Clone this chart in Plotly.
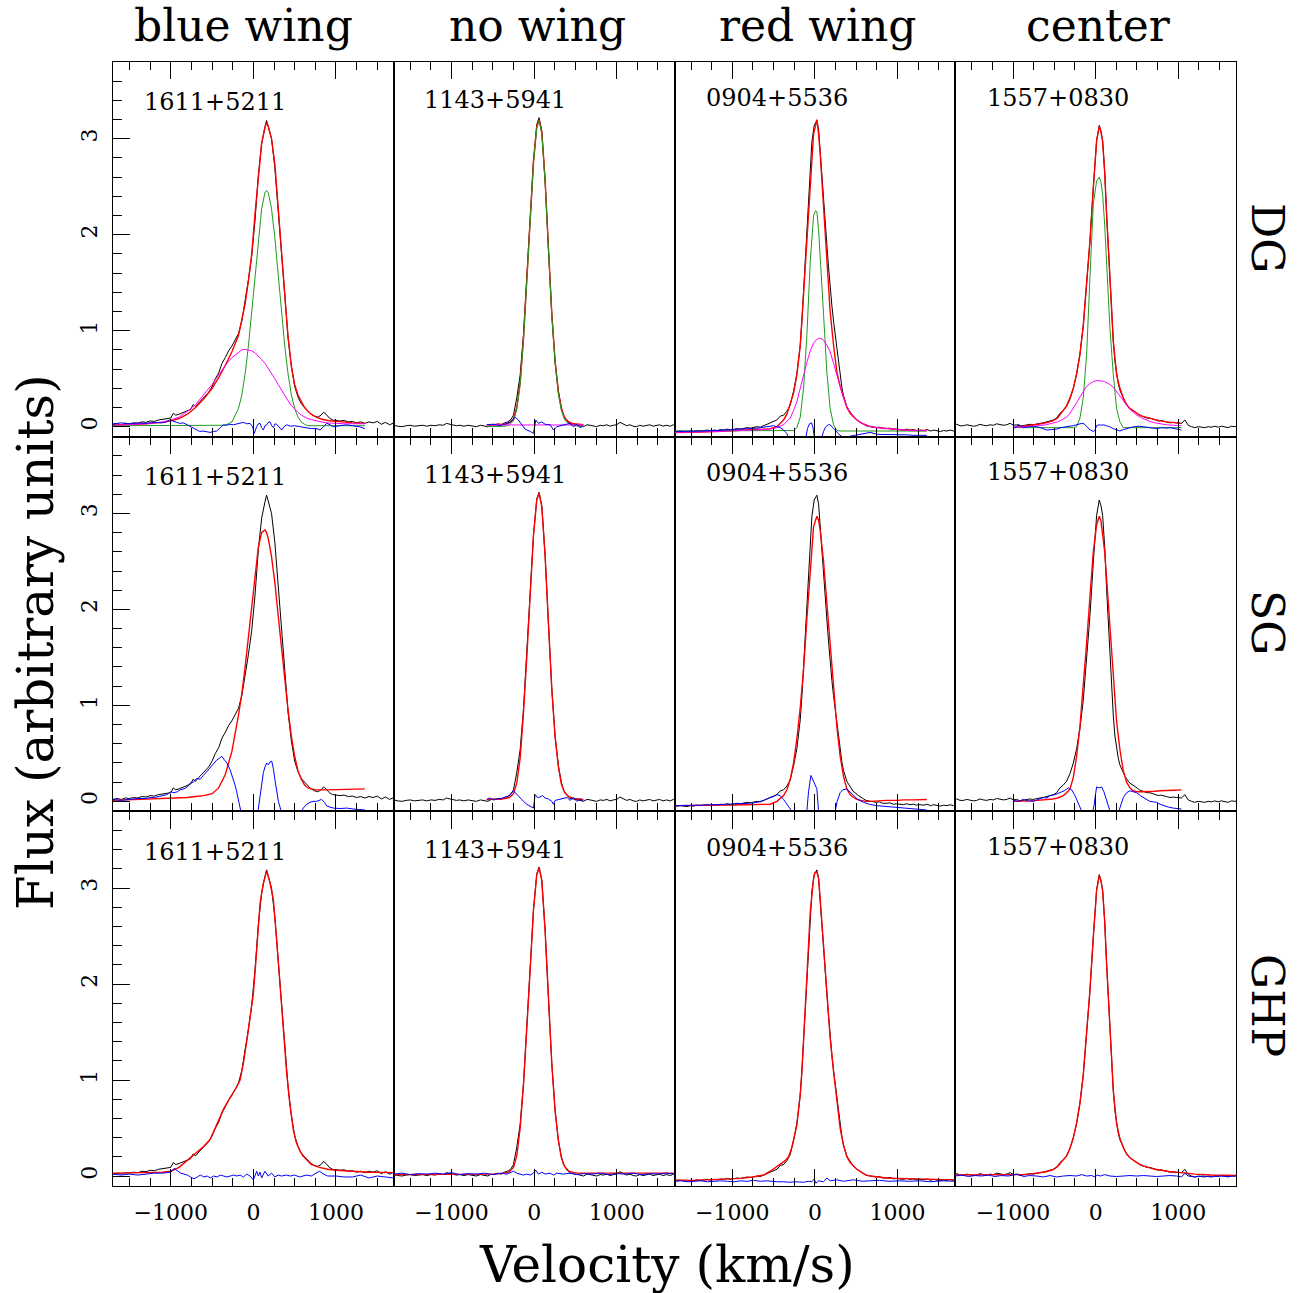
import plotly.graph_objects as go

# ---------------- text ----------------
COLUMN_TITLES = ["blue wing", "no wing", "red wing", "center"]
ROW_LABELS = ["DG", "SG", "GHP"]
OBJECTS = ["1611+5211", "1143+5941", "0904+5536", "1557+0830"]
X_TICKS = [-1000, 0, 1000]
Y_TICKS = [0, 1, 2, 3]
X_RANGE = [-1700, 1700]
Y_RANGE = [-0.104, 3.80]

# ---------------- observed spectra (velocity km/s, flux) ----------------
BLACK_1611 = [(-1750,0.03),(-1700,0.02),(-1650,0.03),(-1600,0.02),(-1550,0.035),(-1500,0.03),(-1450,0.04),(-1400,0.035),
 (-1350,0.05),(-1300,0.045),(-1250,0.06),(-1200,0.055),(-1150,0.07),(-1100,0.075),(-1050,0.085),(-1000,0.09),(-970,0.14),
 (-940,0.12),(-900,0.13),(-850,0.15),(-800,0.165),(-760,0.18),(-730,0.23),(-700,0.21),(-660,0.25),(-620,0.29),(-580,0.32),
 (-540,0.36),(-500,0.42),(-460,0.5),(-420,0.56),(-380,0.66),(-340,0.72),(-300,0.79),(-260,0.84),(-220,0.91),(-180,0.97),
 (-140,1.1),(-100,1.3),(-60,1.53),(-20,1.78),(20,2.15),(60,2.62),(100,2.95),(140,3.12),(160,3.19),(180,3.13),(220,3.0),
 (260,2.7),(300,2.25),(340,1.8),(380,1.35),(420,0.93),(460,0.63),(500,0.42),(540,0.31),(580,0.24),(620,0.2),(660,0.16),
 (700,0.13),(740,0.11),(780,0.1),(820,0.12),(850,0.15),(880,0.13),(920,0.09),(960,0.07),(1000,0.065),(1050,0.06),
 (1100,0.065),(1150,0.05),(1200,0.055),(1250,0.04),(1300,0.05),(1350,0.035),(1400,0.05),(1450,0.04),(1500,0.055),
 (1550,0.025),(1600,0.045),(1650,0.02),(1700,0.04),(1750,0.03),(1800,0.035)]

BLACK_1143 = [(-1750,0.01),(-1700,0.015),(-1650,0.005),(-1600,0.0),(-1550,0.01),(-1500,0.015),(-1450,0.005),(-1400,0.01),
 (-1350,0.015),(-1300,0.005),(-1250,0.015),(-1200,0.01),(-1150,0.02),(-1100,0.015),(-1060,0.035),(-1020,0.025),(-980,0.02),
 (-940,0.01),(-900,0.015),(-850,0.005),(-800,0.015),(-750,0.01),(-700,0.0),(-650,0.015),(-600,0.005),(-560,0.0),(-520,0.02),
 (-480,0.015),(-440,0.03),(-400,0.02),(-360,0.04),(-320,0.05),(-285,0.07),(-250,0.12),(-210,0.3),(-169,0.54),(-129,0.96),
 (-89,1.52),(-48,2.14),(-8,2.77),(32,3.15),(60,3.22),(93,3.08),(133,2.56),(173,1.86),(214,1.17),(254,0.68),(294,0.37),
 (330,0.2),(355,0.12),(400,0.06),(435,0.03),(476,0.025),(516,0.02),(556,0.01),(597,0.0),(640,0.02),(678,0.015),(720,0.005),
 (758,0.0),(800,0.015),(839,0.01),(880,0.02),(920,0.005),(960,0.015),(1000,0.02),(1040,0.045),(1080,0.025),(1121,0.01),
 (1160,0.02),(1200,0.005),(1242,0.0),(1280,0.015),(1320,0.005),(1363,0.015),(1400,0.02),(1440,0.005),(1484,0.01),
 (1520,0.02),(1560,0.005),(1605,0.015),(1650,0.005),(1686,0.02),(1750,0.01)]

BLACK_0904 = [(-1750,-0.04),(-1710,-0.04),(-1670,-0.05),(-1630,-0.045),(-1589,-0.05),(-1550,-0.055),(-1510,-0.045),
 (-1468,-0.05),(-1430,-0.04),(-1390,-0.045),(-1347,-0.04),(-1300,-0.035),(-1260,-0.045),(-1226,-0.035),(-1180,-0.04),
 (-1140,-0.03),(-1105,-0.035),(-1060,-0.025),(-1020,-0.035),(-984,-0.03),(-940,-0.02),(-900,-0.025),(-863,-0.02),
 (-820,-0.01),(-780,-0.015),(-742,-0.01),(-700,0.0),(-660,-0.005),(-621,0.01),(-580,0.02),(-540,0.035),(-500,0.05),
 (-460,0.07),(-419,0.11),(-379,0.12),(-339,0.16),(-300,0.22),(-278,0.3),(-258,0.37),(-218,0.55),(-177,0.85),(-157,1.1),
 (-137,1.4),(-117,1.72),(-97,2.0),(-76,2.35),(-56,2.7),(-36,2.97),(-8,3.14),(12,3.17),(24,3.19),(45,3.1),(65,2.88),
 (85,2.65),(105,2.42),(125,2.15),(145,1.9),(165,1.67),(185,1.44),(206,1.26),(226,1.1),(246,0.95),(266,0.8),(286,0.65),
 (306,0.52),(327,0.41),(347,0.32),(367,0.26),(387,0.21),(407,0.18),(427,0.15),(448,0.12),(468,0.1),(490,0.09),(508,0.07),
 (530,0.06),(560,0.04),(590,0.025),(620,0.01),(650,0.005),(669,0.0),(700,-0.005),(740,-0.01),(780,-0.005),(820,-0.02),
 (871,-0.02),(910,-0.015),(950,-0.03),(990,-0.025),(1030,-0.03),(1073,-0.035),(1110,-0.025),(1150,-0.035),(1190,-0.03),
 (1230,-0.04),(1274,-0.035),(1320,-0.04),(1360,-0.03),(1400,-0.045),(1440,-0.035),(1476,-0.04),(1520,-0.05),(1560,-0.04),
 (1600,-0.045),(1640,-0.035),(1678,-0.045),(1720,-0.04),(1760,-0.045)]

BLACK_1557 = [(-1762,0.01),(-1722,0.02),(-1682,0.025),(-1641,0.01),(-1601,0.01),(-1561,0.02),(-1520,0.015),(-1480,0.005),
 (-1440,0.01),(-1400,0.025),(-1359,0.015),(-1319,0.01),(-1278,0.02),(-1238,0.015),(-1198,0.03),(-1157,0.02),(-1117,0.015),
 (-1077,0.02),(-1036,0.035),(-996,0.015),(-956,0.02),(-915,0.005),(-875,0.01),(-835,0.02),(-794,0.025),(-754,0.02),
 (-714,0.03),(-673,0.035),(-633,0.04),(-593,0.05),(-552,0.055),(-512,0.07),(-472,0.09),(-432,0.14),(-391,0.17),(-351,0.21),
 (-310,0.29),(-270,0.4),(-230,0.55),(-190,0.76),(-150,1.05),(-109,1.45),(-69,1.93),(-28,2.49),(12,2.98),(44,3.14),(65,3.08),
 (85,2.98),(110,2.65),(133,2.21),(153,1.86),(173,1.52),(194,1.18),(214,0.89),(234,0.68),(254,0.54),(274,0.45),(294,0.38),
 (315,0.33),(335,0.3),(355,0.26),(375,0.23),(395,0.21),(415,0.19),(436,0.18),(456,0.17),(476,0.155),(500,0.14),(530,0.12),
 (560,0.11),(590,0.1),(620,0.09),(657,0.09),(690,0.08),(720,0.07),(760,0.06),(790,0.065),(820,0.055),(859,0.05),(900,0.04),
 (940,0.045),(980,0.04),(1040,0.035),(1081,0.07),(1121,0.015),(1161,0.0),(1200,-0.01),(1242,0.0),(1282,-0.005),
 (1322,-0.01),(1363,0.0),(1403,-0.005),(1443,0.005),(1484,-0.005),(1524,0.005),(1564,0.0),(1605,-0.01),(1645,0.005),
 (1686,0.0),(1726,0.01)]

# ---------------- column 1: 1611+5211 ----------------
RED_1611_DG = [(-1700,0.015),(-1500,0.02),(-1300,0.03),(-1100,0.045),(-1000,0.06),(-900,0.085),(-800,0.13),(-700,0.2),
 (-600,0.29),(-500,0.4),(-420,0.51),(-340,0.64),(-260,0.78),(-180,0.95),(-140,1.1),(-100,1.28),(-60,1.52),(-20,1.8),
 (20,2.22),(60,2.62),(100,2.95),(140,3.12),(160,3.17),(180,3.13),(220,3.0),(260,2.74),(300,2.27),(340,1.79),(380,1.32),
 (420,0.93),(460,0.63),(500,0.44),(540,0.33),(580,0.26),(620,0.2),(660,0.16),(700,0.13),(760,0.1),(820,0.08),(900,0.065),
 (1000,0.055),(1100,0.045),(1200,0.04),(1350,0.035)]
GREEN_1611_DG = [(-1700,0.01),(-1000,0.01),(-500,0.01),(-340,0.015),(-260,0.05),(-180,0.19),(-140,0.33),(-100,0.55),
 (-60,0.84),(-20,1.2),(20,1.59),(60,1.97),(100,2.27),(140,2.44),(160,2.46),(180,2.44),(220,2.27),(260,1.97),(300,1.59),
 (340,1.2),(380,0.84),(420,0.55),(460,0.33),(500,0.19),(540,0.1),(580,0.05),(620,0.025),(660,0.01),(1000,0.01),(1350,0.01)]
MAGENTA_1611_DG = [(-1700,0.015),(-1500,0.02),(-1300,0.03),(-1100,0.05),(-1000,0.07),(-900,0.1),(-800,0.16),(-700,0.23),
 (-600,0.33),(-500,0.44),(-420,0.54),(-340,0.64),(-260,0.72),(-180,0.78),(-140,0.8),(-100,0.805),(-60,0.8),(-20,0.79),
 (20,0.77),(60,0.74),(100,0.7),(140,0.66),(180,0.61),(220,0.56),(260,0.5),(300,0.44),(340,0.38),(380,0.32),(420,0.27),
 (460,0.22),(500,0.18),(540,0.15),(580,0.12),(620,0.1),(660,0.085),(700,0.075),(760,0.06),(820,0.05),(900,0.04),
 (1000,0.035),(1100,0.03),(1350,0.03)]
BLUE_1611_DG = [(-1700,0.03),(-1600,0.04),(-1500,0.03),(-1400,0.04),(-1300,0.035),(-1200,0.045),(-1100,0.04),(-1050,0.05),
 (-1010,0.07),(-970,0.055),(-930,0.045),(-890,0.035),(-850,0.04),(-800,0.02),(-760,0.0),(-726,-0.02),(-690,-0.03),
 (-650,-0.05),(-610,-0.045),(-570,-0.055),(-524,-0.06),(-480,-0.05),(-444,-0.045),(-400,-0.01),(-363,0.02),(-320,0.015),
 (-280,0.025),(-242,0.02),(-200,0.03),(-160,0.035),(-121,0.045),(-80,0.03),(-40,0.035),(-10,0.0),(10,-0.07),(40,0.0),
 (60,0.03),(81,0.035),(100,-0.01),(121,-0.035),(140,0.01),(161,0.02),(180,0.045),(202,0.05),(222,0.01),(242,-0.01),
 (262,0.03),(282,0.025),(310,0.0),(343,-0.035),(370,0.0),(403,0.02),(450,0.005),(500,0.01),(565,0.0),(640,-0.01),
 (700,-0.02),(770,-0.02),(806,-0.035),(850,0.0),(887,0.035),(930,0.02),(968,0.0),(1050,0.01),(1129,0.02),(1200,0.01),
 (1280,0.0),(1351,-0.02)]
RED_1611_SG = [(-1700,0.01),(-1500,0.015),(-1300,0.02),(-1100,0.025),(-1000,0.03),(-900,0.035),(-800,0.04),(-700,0.05),
 (-600,0.06),(-500,0.08),(-420,0.14),(-340,0.28),(-260,0.52),(-180,0.9),(-140,1.12),(-100,1.4),(-60,1.72),(-20,2.05),
 (20,2.4),(60,2.65),(100,2.8),(140,2.83),(160,2.8),(180,2.74),(220,2.55),(260,2.28),(300,1.94),(340,1.6),(380,1.26),
 (420,0.95),(460,0.68),(500,0.47),(540,0.32),(580,0.23),(620,0.17),(660,0.14),(700,0.13),(760,0.12),(900,0.12),
 (1100,0.125),(1200,0.13),(1350,0.13)]
BLUE_1611_SG = [(-1700,0.02),(-1600,0.01),(-1500,0.02),(-1400,0.03),(-1300,0.03),(-1250,0.04),(-1200,0.04),(-1100,0.06),
 (-1048,0.07),(-1000,0.1),(-960,0.09),(-920,0.1),(-887,0.12),(-840,0.13),(-800,0.15),(-766,0.19),(-726,0.2),(-686,0.24),
 (-645,0.23),(-605,0.27),(-565,0.31),(-524,0.36),(-484,0.4),(-444,0.43),(-410,0.45),(-383,0.47),(-350,0.43),(-320,0.4),
 (-282,0.33),(-250,0.25),(-222,0.17),(-202,0.1),(-180,0.02),(-161,-0.06),(-140,-0.15),(-121,-0.25),(-80,-0.35),
 (-40,-0.45),(0,-0.45),(40,-0.2),(60,-0.05),(81,0.08),(100,0.2),(121,0.3),(141,0.36),(161,0.4),(181,0.38),(202,0.41),
 (222,0.42),(242,0.34),(262,0.22),(282,0.1),(303,0.0),(323,-0.06),(343,-0.12),(363,-0.2),(400,-0.25),(450,-0.25),
 (500,-0.2),(565,-0.13),(605,-0.07),(645,-0.03),(686,-0.01),(726,0.0),(766,0.0),(800,0.01),(827,0.02),(860,-0.01),
 (890,-0.05),(928,-0.06),(968,-0.07),(1048,-0.075),(1129,-0.07),(1210,-0.08),(1290,-0.085),(1351,-0.09)]
RED_1611_GHP = [(-1700,0.03),(-1500,0.03),(-1300,0.035),(-1100,0.04),(-1000,0.05),(-900,0.09),(-800,0.16),(-726,0.22),
 (-650,0.27),(-600,0.31),(-524,0.38),(-440,0.55),(-360,0.7),(-280,0.82),(-200,0.93),(-161,1.0),(-120,1.18),(-81,1.4),
 (-40,1.63),(0,1.9),(40,2.35),(81,2.84),(120,3.05),(161,3.18),(200,3.06),(242,2.88),(280,2.48),(323,1.98),(360,1.55),
 (403,1.08),(440,0.76),(484,0.48),(520,0.35),(565,0.26),(600,0.21),(650,0.16),(700,0.12),(800,0.09),(900,0.07),
 (1000,0.06),(1200,0.05),(1400,0.04),(1700,0.035)]
BLUE_1611_GHP = [(-1700,0.02),(-1600,0.01),(-1500,0.02),(-1400,0.01),(-1300,0.02),(-1200,0.03),(-1100,0.03),(-1000,0.04),
 (-960,0.08),(-920,0.05),(-880,0.03),(-840,0.02),(-800,0.01),(-760,-0.01),(-720,-0.03),(-680,-0.01),(-640,0.01),
 (-600,-0.01),(-560,0.0),(-520,-0.02),(-480,0.0),(-440,-0.01),(-400,0.01),(-360,0.0),(-320,-0.01),(-280,0.0),(-240,0.01),
 (-200,0.0),(-160,0.01),(-120,-0.01),(-80,0.02),(-40,0.0),(0,-0.04),(40,0.05),(60,0.0),(80,0.04),(100,-0.02),(140,0.05),
 (180,0.0),(220,0.03),(260,-0.01),(300,0.01),(340,0.0),(400,0.01),(450,0.0),(500,0.01),(560,-0.01),(600,0.0),(650,0.01),
 (700,0.0),(760,0.03),(800,0.05),(850,0.02),(900,0.0),(1000,0.0),(1100,-0.01),(1200,-0.01),(1300,0.01),(1400,-0.02),
 (1500,0.0),(1600,-0.01),(1700,-0.02)]

# ---------------- column 2: 1143+5941 ----------------
RED_1143_DG = [(-573,0.02),(-500,0.02),(-420,0.02),(-350,0.025),(-300,0.04),(-250,0.08),(-210,0.2),(-169,0.46),
 (-129,0.92),(-89,1.5),(-48,2.13),(-8,2.76),(32,3.13),(60,3.2),(93,3.07),(133,2.57),(173,1.87),(214,1.18),(254,0.68),
 (294,0.36),(330,0.19),(370,0.09),(420,0.05),(480,0.03),(540,0.025),(597,0.02)]
GREEN_1143_DG = [(-573,0.0),(-500,0.0),(-420,0.0),(-350,0.005),(-300,0.02),(-250,0.06),(-210,0.18),(-169,0.44),
 (-129,0.9),(-89,1.48),(-48,2.11),(-8,2.74),(32,3.11),(60,3.19),(93,3.05),(133,2.55),(173,1.85),(214,1.16),(254,0.66),
 (294,0.34),(330,0.17),(370,0.07),(420,0.03),(480,0.01),(540,0.005),(597,0.0)]
MAGENTA_1143_DG = [(-573,0.018),(-300,0.018),(0,0.018),(300,0.018),(597,0.018)]
BLUE_1143_DG = [(-573,0.02),(-492,0.025),(-411,0.01),(-331,0.035),(-282,0.05),(-230,0.1),(-190,0.07),(-149,0.02),
 (-109,-0.025),(-48,-0.05),(-8,-0.07),(20,0.07),(52,0.035),(93,0.05),(133,0.025),(194,0.02),(234,-0.035),(274,0.0),
 (355,0.02),(435,0.035),(476,0.0),(516,0.025),(556,-0.01),(597,0.01)]
RED_1143_SG = [(-573,0.02),(-500,0.02),(-420,0.025),(-350,0.03),(-300,0.04),(-250,0.08),(-210,0.19),(-169,0.45),
 (-129,0.92),(-89,1.5),(-48,2.13),(-8,2.77),(32,3.14),(60,3.21),(93,3.07),(133,2.56),(173,1.86),(214,1.17),(254,0.67),
 (294,0.36),(330,0.18),(370,0.09),(420,0.05),(480,0.03),(540,0.025),(597,0.02)]
BLUE_1143_SG = [(-573,0.02),(-540,0.035),(-500,0.02),(-450,0.025),(-400,0.03),(-350,0.045),(-300,0.06),(-250,0.11),
 (-210,0.07),(-169,0.04),(-129,0.0),(-89,-0.03),(-48,-0.05),(-8,-0.07),(12,0.07),(40,0.04),(70,0.045),(100,0.06),
 (133,0.035),(173,0.025),(214,0.0),(234,-0.03),(254,0.01),(300,0.02),(355,0.03),(400,0.04),(435,0.01),(476,0.04),
 (516,0.0),(556,0.025),(597,0.005)]
RED_1143_GHP = [(-1700,0.015),(-1400,0.015),(-1100,0.02),(-800,0.02),(-573,0.02),(-500,0.02),(-420,0.025),(-350,0.03),
 (-300,0.045),(-250,0.09),(-210,0.21),(-169,0.5),(-129,0.95),(-89,1.51),(-48,2.14),(-8,2.77),(32,3.14),(60,3.21),
 (93,3.08),(133,2.56),(173,1.86),(214,1.17),(254,0.68),(294,0.37),(330,0.19),(370,0.1),(420,0.05),(480,0.035),
 (540,0.03),(597,0.03),(800,0.03),(1100,0.03),(1400,0.03),(1700,0.03)]
BLUE_1143_GHP = [(-1700,0.02),(-1600,0.03),(-1500,0.015),(-1400,0.025),(-1300,0.02),(-1200,0.03),(-1100,0.02),
 (-1000,0.035),(-900,0.015),(-800,0.025),(-700,0.02),(-600,0.03),(-500,0.015),(-400,0.03),(-330,0.02),(-282,0.04),
 (-250,0.05),(-210,0.03),(-169,0.02),(-129,0.01),(-89,0.02),(-48,0.01),(-8,0.03),(20,0.06),(52,0.02),(93,0.04),
 (133,0.02),(194,0.03),(234,0.01),(274,0.03),(355,0.02),(435,0.03),(516,0.015),(600,0.025),(700,0.02),(800,0.03),
 (900,0.015),(1000,0.025),(1100,0.02),(1200,0.03),(1300,0.015),(1400,0.025),(1500,0.02),(1600,0.03),(1700,0.02)]

# ---------------- column 3: 0904+5536 ----------------
RED_0904_DG = [(-1710,-0.06),(-1589,-0.06),(-1400,-0.055),(-1200,-0.05),(-1000,-0.045),(-850,-0.04),(-700,-0.03),
 (-600,-0.025),(-540,-0.02),(-460,0.0),(-379,0.07),(-339,0.13),(-298,0.23),(-258,0.35),(-218,0.54),(-177,0.85),
 (-137,1.38),(-97,1.93),(-56,2.49),(-16,3.05),(24,3.2),(45,3.05),(65,2.84),(105,2.28),(145,1.72),(185,1.2),(226,0.85),
 (266,0.57),(306,0.42),(347,0.3),(387,0.2),(427,0.14),(468,0.1),(508,0.07),(560,0.04),(620,0.02),(669,0.0),(760,-0.01),
 (871,-0.02),(1000,-0.03),(1073,-0.035),(1200,-0.04),(1355,-0.04)]
GREEN_0904_DG = [(-1710,-0.045),(-1000,-0.045),(-500,-0.045),(-298,-0.045),(-258,-0.04),(-218,-0.01),(-177,0.1),
 (-137,0.4),(-97,0.95),(-56,1.72),(-16,2.2),(8,2.25),(24,2.24),(45,2.05),(65,1.79),(105,1.17),(145,0.57),(185,0.19),
 (226,0.02),(266,-0.04),(306,-0.045),(600,-0.045),(1000,-0.045),(1355,-0.045)]
MAGENTA_0904_DG = [(-1710,-0.06),(-1589,-0.06),(-1400,-0.055),(-1200,-0.05),(-1000,-0.045),(-850,-0.04),(-700,-0.035),
 (-600,-0.03),(-540,-0.025),(-460,-0.01),(-379,0.02),(-339,0.05),(-298,0.09),(-258,0.17),(-218,0.26),(-177,0.4),
 (-137,0.54),(-97,0.67),(-56,0.79),(-16,0.87),(24,0.91),(45,0.92),(73,0.92),(105,0.9),(145,0.85),(185,0.78),(226,0.66),
 (266,0.54),(306,0.41),(347,0.3),(387,0.21),(427,0.15),(468,0.11),(508,0.07),(560,0.04),(620,0.02),(669,0.0),
 (760,-0.01),(871,-0.02),(1000,-0.03),(1073,-0.035),(1200,-0.04),(1355,-0.04)]
BLUE_0904_DG = [(-1710,-0.05),(-1589,-0.05),(-1470,-0.045),(-1347,-0.045),(-1200,-0.04),(-1050,-0.035),(-944,-0.03),
 (-800,-0.02),(-700,-0.015),(-620,-0.005),(-540,0.01),(-500,0.01),(-460,0.0),(-420,-0.01),(-379,-0.035),(-340,-0.07),
 (-319,-0.12),(-280,-0.2),(-200,-0.25),(-137,-0.2),(-110,-0.12),(-90,-0.02),(-65,0.03),(-40,0.04),(-25,0.0),(-10,-0.12),
 (10,-0.2),(40,-0.2),(80,-0.12),(105,-0.05),(125,-0.01),(145,0.01),(165,0.02),(185,0.02),(210,0.0),(240,-0.03),
 (280,-0.07),(320,-0.1),(360,-0.11),(420,-0.1),(508,-0.09),(600,-0.07),(669,-0.06),(760,-0.08),(871,-0.08),
 (1000,-0.085),(1100,-0.085),(1200,-0.09),(1355,-0.09)]
RED_0904_SG = [(-1710,-0.045),(-1589,-0.045),(-1400,-0.042),(-1200,-0.04),(-1000,-0.038),(-850,-0.035),(-700,-0.033),
 (-600,-0.03),(-540,-0.03),(-460,0.0),(-379,0.06),(-339,0.12),(-298,0.23),(-258,0.4),(-218,0.65),(-177,0.98),
 (-137,1.37),(-97,1.9),(-56,2.41),(-16,2.86),(24,2.97),(45,2.93),(65,2.82),(105,2.5),(145,2.07),(185,1.62),(226,1.17),
 (266,0.78),(306,0.47),(347,0.26),(387,0.13),(427,0.07),(468,0.04),(508,0.02),(560,0.01),(620,0.0),(669,0.0),
 (760,0.005),(871,0.01),(1000,0.01),(1073,0.015),(1200,0.015),(1355,0.02)]
BLUE_0904_SG = [(-1710,-0.045),(-1589,-0.04),(-1400,-0.04),(-1200,-0.035),(-1000,-0.03),(-944,-0.03),(-800,-0.02),
 (-700,-0.01),(-620,0.01),(-540,0.04),(-500,0.05),(-460,0.07),(-420,0.06),(-379,0.02),(-340,-0.03),(-298,-0.08),
 (-260,-0.15),(-200,-0.25),(-137,-0.3),(-110,-0.2),(-97,-0.1),(-77,0.1),(-48,0.27),(-20,0.22),(0,0.18),(24,0.13),
 (44,-0.1),(80,-0.3),(150,-0.35),(200,-0.25),(246,-0.1),(270,0.0),(306,0.09),(340,0.12),(387,0.13),(420,0.1),
 (468,0.06),(520,0.02),(589,-0.01),(660,-0.03),(750,-0.045),(871,-0.055),(1000,-0.065),(1073,-0.07),(1200,-0.08),
 (1355,-0.09)]
RED_0904_GHP = [(-1710,-0.04),(-1500,-0.045),(-1300,-0.04),(-1100,-0.035),(-900,-0.025),(-750,-0.01),(-620,0.01),
 (-540,0.05),(-460,0.1),(-419,0.13),(-359,0.16),(-318,0.2),(-278,0.3),(-218,0.53),(-177,0.85),(-157,1.09),(-117,1.8),
 (-77,2.45),(-56,2.75),(-16,3.1),(0,3.16),(24,3.17),(45,3.1),(65,2.88),(105,2.42),(145,1.92),(185,1.44),(226,1.09),
 (266,0.76),(306,0.5),(347,0.32),(387,0.2),(427,0.14),(468,0.1),(508,0.07),(560,0.04),(620,0.01),(669,0.0),
 (750,-0.01),(871,-0.02),(1000,-0.025),(1200,-0.03),(1400,-0.035),(1700,-0.04)]
BLUE_0904_GHP = [(-1710,-0.055),(-1620,-0.05),(-1540,-0.06),(-1460,-0.055),(-1380,-0.05),(-1300,-0.06),(-1220,-0.055),
 (-1140,-0.05),(-1060,-0.055),(-980,-0.06),(-900,-0.05),(-820,-0.055),(-742,-0.045),(-660,-0.055),(-580,-0.05),
 (-540,-0.055),(-460,-0.06),(-380,-0.06),(-300,-0.065),(-240,-0.06),(-137,-0.065),(-80,-0.055),(-36,-0.06),(-8,-0.03),
 (12,-0.075),(45,-0.05),(105,-0.06),(145,-0.02),(185,-0.05),(266,-0.04),(347,-0.055),(468,-0.04),(580,-0.055),
 (669,-0.05),(780,-0.045),(900,-0.055),(1030,-0.05),(1150,-0.055),(1270,-0.05),(1400,-0.06),(1530,-0.05),(1700,-0.055)]

# ---------------- column 4: 1557+0830 ----------------
RED_1557_DG = [(-996,-0.01),(-900,0.0),(-800,0.01),(-700,0.025),(-600,0.04),(-520,0.06),(-460,0.09),(-391,0.17),
 (-351,0.22),(-310,0.3),(-270,0.4),(-230,0.55),(-190,0.75),(-150,1.05),(-109,1.45),(-69,1.93),(-28,2.49),(12,2.98),
 (44,3.13),(65,3.07),(85,2.97),(110,2.65),(133,2.21),(173,1.52),(214,0.89),(254,0.54),(294,0.4),(335,0.3),(375,0.23),
 (415,0.19),(456,0.17),(500,0.14),(560,0.11),(620,0.095),(657,0.09),(720,0.07),(780,0.06),(859,0.05),(940,0.04),
 (1040,0.035)]
GREEN_1557_DG = [(-996,-0.01),(-600,-0.01),(-270,-0.01),(-230,0.0),(-190,0.09),(-150,0.3),(-109,0.75),(-69,1.55),
 (-28,2.32),(12,2.56),(44,2.6),(65,2.55),(85,2.42),(110,2.1),(133,1.72),(173,1.03),(214,0.54),(254,0.19),(294,0.05),
 (335,-0.01),(600,-0.01),(1040,-0.01)]
MAGENTA_1557_DG = [(-996,-0.01),(-900,-0.005),(-800,0.0),(-700,0.01),(-600,0.02),(-520,0.035),(-460,0.05),(-391,0.08),
 (-351,0.1),(-310,0.14),(-270,0.19),(-230,0.25),(-190,0.31),(-150,0.37),(-109,0.42),(-69,0.45),(-28,0.47),(12,0.48),
 (44,0.48),(65,0.48),(85,0.475),(110,0.47),(133,0.46),(173,0.44),(214,0.41),(254,0.37),(294,0.32),(335,0.27),(375,0.22),
 (415,0.18),(456,0.15),(500,0.12),(560,0.09),(620,0.065),(657,0.055),(720,0.04),(780,0.03),(859,0.02),(940,0.015),
 (1040,0.01)]
BLUE_1557_DG = [(-996,-0.01),(-960,0.0),(-936,0.025),(-900,0.005),(-875,-0.01),(-800,0.0),(-714,0.0),(-650,-0.015),
 (-593,-0.035),(-530,-0.03),(-472,-0.025),(-420,-0.01),(-371,0.0),(-320,0.005),(-270,0.01),(-230,0.02),(-190,0.025),
 (-169,0.035),(-140,0.03),(-109,0.0),(-70,-0.03),(-28,-0.05),(-10,-0.04),(12,0.01),(40,0.02),(70,0.015),(93,0.02),
 (130,0.01),(170,0.0),(214,-0.02),(254,-0.03),(294,-0.045),(340,-0.03),(380,-0.015),(415,-0.01),(470,0.0),(530,0.005),
 (577,0.0),(640,-0.01),(700,-0.015),(738,-0.02),(800,-0.01),(860,-0.015),(899,-0.01),(960,-0.02),(1000,-0.025),
 (1040,-0.035)]
RED_1557_SG = [(-996,0.0),(-900,0.0),(-800,0.005),(-700,0.01),(-600,0.015),(-520,0.025),(-460,0.035),(-391,0.06),
 (-351,0.09),(-310,0.13),(-270,0.25),(-230,0.47),(-190,0.78),(-150,1.17),(-109,1.65),(-69,2.13),(-28,2.6),(12,2.88),
 (44,2.97),(65,2.92),(85,2.8),(110,2.6),(133,2.32),(173,1.8),(214,1.24),(254,0.83),(294,0.54),(335,0.32),(375,0.2),
 (415,0.14),(456,0.11),(500,0.1),(560,0.1),(620,0.1),(657,0.1),(720,0.105),(780,0.11),(859,0.11),(940,0.115),
 (1040,0.12)]
BLUE_1557_SG = [(-996,0.01),(-936,0.0),(-875,0.02),(-815,0.005),(-754,0.0),(-690,0.02),(-633,0.04),(-590,0.035),
 (-552,0.06),(-490,0.07),(-432,0.09),(-380,0.11),(-331,0.14),(-290,0.12),(-250,0.06),(-220,0.0),(-190,-0.05),
 (-160,-0.12),(-130,-0.2),(-90,-0.25),(-48,-0.15),(-20,-0.05),(0,0.08),(12,0.15),(40,0.14),(73,0.15),(100,0.1),
 (133,0.02),(150,-0.04),(173,-0.1),(210,-0.2),(254,-0.18),(290,-0.08),(335,0.04),(375,0.09),(415,0.11),(456,0.1),
 (496,0.09),(540,0.06),(577,0.04),(620,0.02),(657,0.0),(700,-0.005),(738,-0.01),(780,-0.03),(819,-0.045),(880,-0.06),
 (940,-0.07),(1000,-0.075),(1040,-0.08)]
RED_1557_GHP = [(-1700,0.01),(-1500,0.01),(-1300,0.012),(-1100,0.015),(-996,0.015),(-900,0.015),(-800,0.02),(-700,0.03),
 (-600,0.045),(-520,0.065),(-460,0.1),(-391,0.17),(-351,0.21),(-310,0.29),(-270,0.4),(-230,0.55),(-190,0.76),(-150,1.05),
 (-109,1.45),(-69,1.93),(-28,2.49),(12,2.98),(44,3.13),(65,3.07),(85,2.97),(110,2.65),(133,2.21),(173,1.52),(214,0.89),
 (254,0.54),(294,0.39),(335,0.3),(375,0.23),(415,0.19),(456,0.17),(500,0.14),(560,0.11),(620,0.09),(657,0.085),
 (720,0.07),(780,0.06),(859,0.05),(940,0.04),(1040,0.035),(1200,0.02),(1400,0.01),(1700,0.005)]
BLUE_1557_GHP = [(-1700,0.0),(-1620,0.01),(-1540,-0.005),(-1460,0.005),(-1380,0.0),(-1300,0.01),(-1220,-0.005),
 (-1140,0.005),(-1060,0.0),(-996,0.01),(-936,0.02),(-875,-0.005),(-800,0.005),(-714,0.0),(-633,-0.01),(-552,0.005),
 (-472,-0.01),(-391,0.0),(-310,0.005),(-230,0.0),(-169,0.015),(-109,0.0),(-48,0.005),(-8,-0.01),(20,0.01),(60,0.0),
 (110,0.015),(173,0.0),(254,-0.005),(335,0.0),(415,0.005),(500,0.0),(577,0.005),(657,0.0),(738,-0.005),(819,0.0),
 (899,0.005),(980,0.0),(1040,-0.01),(1081,0.03),(1121,0.0),(1200,-0.01),(1300,0.0),(1400,-0.01),(1500,0.0),
 (1600,-0.005),(1700,0.0)]

# ---------------- panel assembly ----------------
BLACK_BY_COL = [BLACK_1611, BLACK_1143, BLACK_0904, BLACK_1557]
FITS = {
    (0, 0): [("red", RED_1611_DG), ("green", GREEN_1611_DG), ("magenta", MAGENTA_1611_DG), ("blue", BLUE_1611_DG)],
    (0, 1): [("red", RED_1143_DG), ("green", GREEN_1143_DG), ("magenta", MAGENTA_1143_DG), ("blue", BLUE_1143_DG)],
    (0, 2): [("red", RED_0904_DG), ("green", GREEN_0904_DG), ("magenta", MAGENTA_0904_DG), ("blue", BLUE_0904_DG)],
    (0, 3): [("red", RED_1557_DG), ("green", GREEN_1557_DG), ("magenta", MAGENTA_1557_DG), ("blue", BLUE_1557_DG)],
    (1, 0): [("red", RED_1611_SG), ("blue", BLUE_1611_SG)],
    (1, 1): [("red", RED_1143_SG), ("blue", BLUE_1143_SG)],
    (1, 2): [("red", RED_0904_SG), ("blue", BLUE_0904_SG)],
    (1, 3): [("red", RED_1557_SG), ("blue", BLUE_1557_SG)],
    (2, 0): [("red", RED_1611_GHP), ("blue", BLUE_1611_GHP)],
    (2, 1): [("red", RED_1143_GHP), ("blue", BLUE_1143_GHP)],
    (2, 2): [("red", RED_0904_GHP), ("blue", BLUE_0904_GHP)],
    (2, 3): [("red", RED_1557_GHP), ("blue", BLUE_1557_GHP)],
}
COLORS = {"black": "#000000", "red": "#ff0000", "green": "#1f9a1f", "magenta": "#ff00ff", "blue": "#0000ff"}
WIDTHS = {"black": 1.0, "red": 1.4, "green": 1.0, "magenta": 1.0, "blue": 1.0}

W, H = 1308, 1293
ML, MR, MT, MB = 113, 72, 62, 107
NR, NC = 3, 4
FONT = "DejaVu Serif"

fig = go.Figure()
layout = {}
for r in range(NR):
    for c in range(NC):
        k = r * NC + c + 1
        xs = "" if k == 1 else str(k)
        xa, ya = "x" + xs, "y" + xs
        series = [("black", BLACK_BY_COL[c])] + FITS[(r, c)]
        for name, pts in series:
            fig.add_trace(go.Scatter(
                x=[p[0] for p in pts], y=[p[1] for p in pts], mode="lines",
                line=dict(color=COLORS[name], width=WIDTHS[name]),
                xaxis=xa, yaxis=ya, showlegend=False, hoverinfo="skip"))
        layout["xaxis" + xs] = dict(
            domain=[c / NC, (c + 1) / NC], range=X_RANGE, anchor=ya,
            tickmode="array", tickvals=X_TICKS, ticks="inside", ticklen=17, tickwidth=1, tickcolor="black",
            minor=dict(dtick=250, tick0=0, ticks="inside", ticklen=8, tickwidth=1, tickcolor="black"),
            showline=True, linecolor="black", linewidth=1.4, mirror="ticks",
            showgrid=False, zeroline=False, showticklabels=(r == NR - 1),
            tickfont=dict(family=FONT, size=22, color="black"), ticklabelstandoff=6)
        ytk = "inside" if c == 0 else ""
        layout["yaxis" + xs] = dict(
            domain=[1 - (r + 1) / NR, 1 - r / NR], range=Y_RANGE, anchor=xa,
            tickmode="array", tickvals=Y_TICKS, ticks=ytk, ticklen=17, tickwidth=1, tickcolor="black",
            minor=dict(dtick=0.2, tick0=0, ticks=ytk, ticklen=9, tickwidth=1, tickcolor="black"),
            showline=True, linecolor="black", linewidth=1.4, mirror=True,
            showgrid=False, zeroline=False, showticklabels=(c == 0), tickangle=-90,
            tickfont=dict(family=FONT, size=22, color="black"), ticklabelstandoff=6)

PW, PH = W - ML - MR, H - MT - MB
def px_x(x): return (x - ML) / PW
def px_y(y): return (H - MB - y) / PH

ann = []
OBJ_POS = [(-465, 3.38), (-472, 3.40), (-463, 3.42), (-452, 3.43)]
for r in range(NR):
    for c in range(NC):
        k = r * NC + c + 1
        xs = "" if k == 1 else str(k)
        ann.append(dict(text=OBJECTS[c], x=OBJ_POS[c][0], y=OBJ_POS[c][1], xref="x" + xs, yref="y" + xs,
                        showarrow=False, xanchor="center", yanchor="middle",
                        font=dict(family=FONT, size=24, color="black")))
TITLE_X = [243, 537, 817, 1098]
for c in range(NC):
    ann.append(dict(text=COLUMN_TITLES[c], x=px_x(TITLE_X[c]), y=px_y(25), xref="paper", yref="paper",
                    showarrow=False, xanchor="center", yanchor="middle",
                    font=dict(family=FONT, size=44, color="black")))
ROW_Y = [238, 622, 1005]
for r in range(NR):
    ann.append(dict(text=ROW_LABELS[r], x=px_x(1268), y=px_y(ROW_Y[r]), xref="paper", yref="paper",
                    showarrow=False, xanchor="center", yanchor="middle", textangle=90,
                    font=dict(family=FONT, size=44, color="black")))
ann.append(dict(text="Velocity (km/s)", x=px_x(667), y=px_y(1265), xref="paper", yref="paper",
                showarrow=False, xanchor="center", yanchor="middle",
                font=dict(family=FONT, size=50, color="black")))
ann.append(dict(text="Flux (arbitrary units)", x=px_x(36), y=px_y(642), xref="paper", yref="paper",
                showarrow=False, xanchor="center", yanchor="middle", textangle=-90,
                font=dict(family=FONT, size=50, color="black")))

fig.update_layout(width=W, height=H, margin=dict(l=ML, r=MR, t=MT, b=MB),
                  paper_bgcolor="white", plot_bgcolor="white", annotations=ann, **layout)
fig.write_html("out.html")
